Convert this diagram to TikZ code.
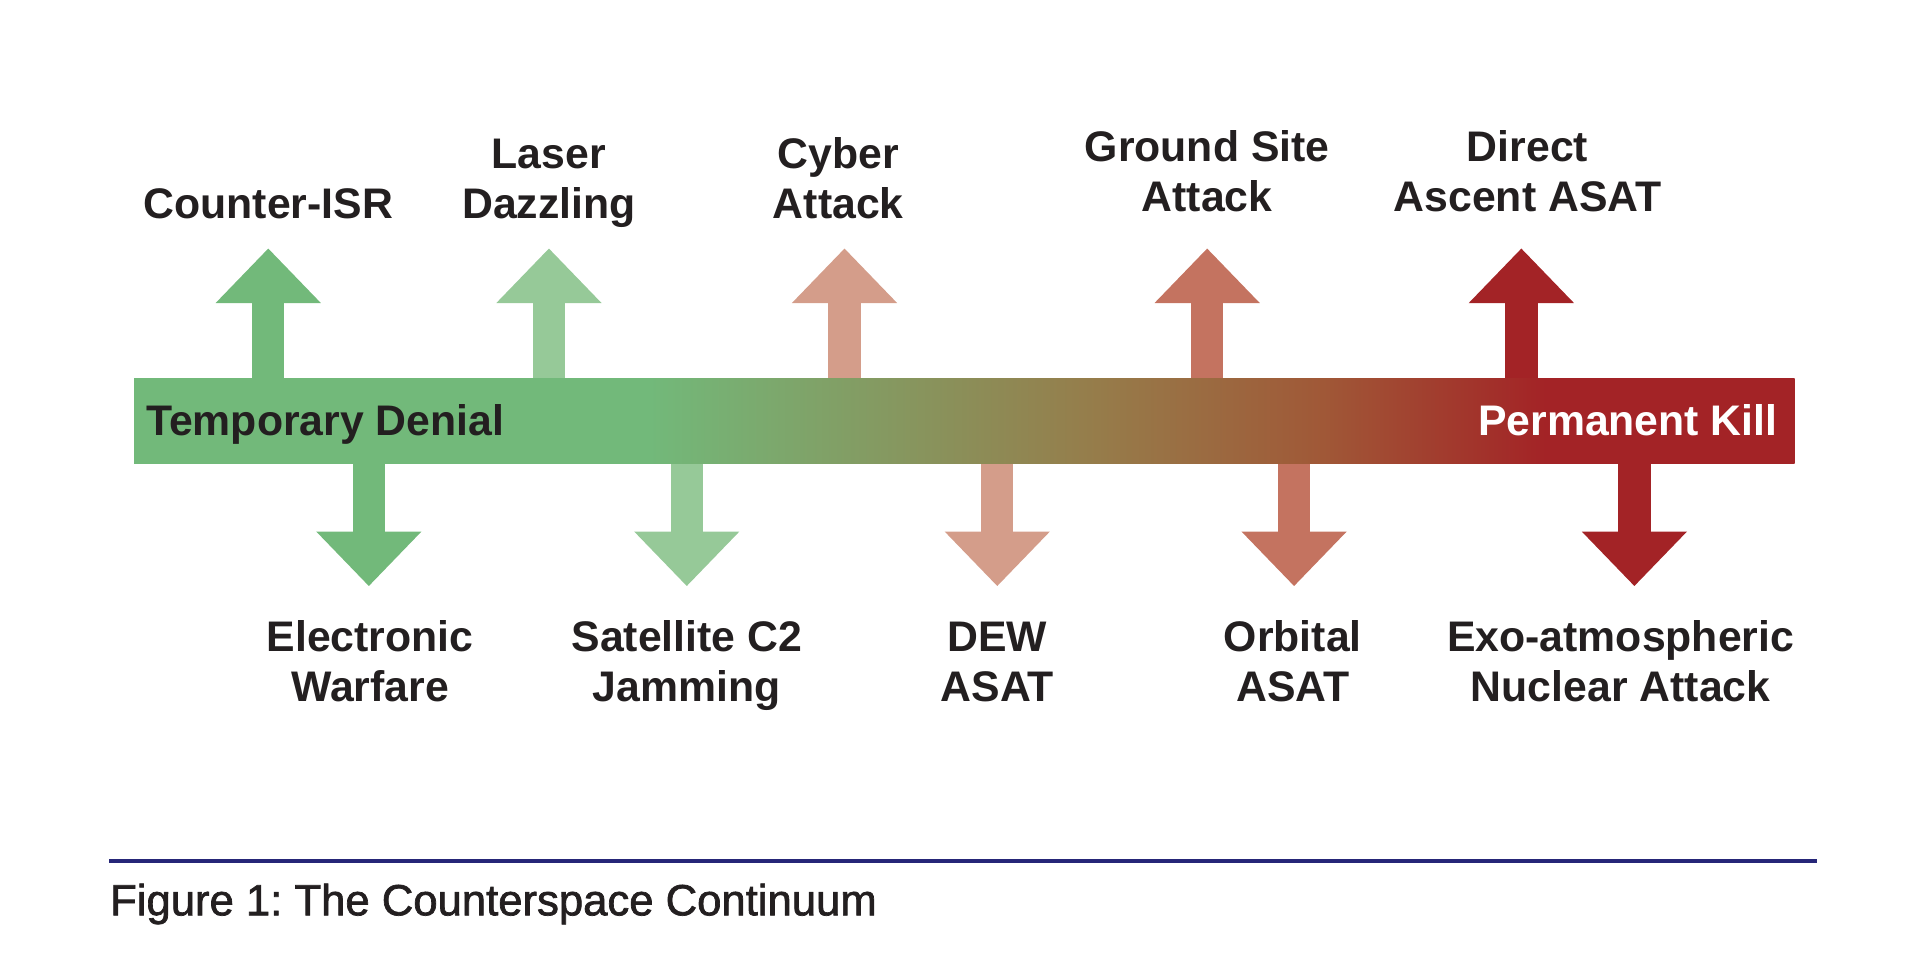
\documentclass[tikz,border=0pt]{standalone}
\usepackage{fontspec}
\setmainfont{Liberation Sans}
\newfontfamily\capfont[FakeBold=1.6]{Liberation Sans}
\usepackage{xcolor}
\usepackage{tikz}
\usetikzlibrary{arrows.meta}
\usetikzlibrary{positioning}
\definecolor{tdgreen}{RGB}{114,185,122}
\definecolor{ltgreen}{RGB}{150,201,152}
\definecolor{salmon}{RGB}{212,157,138}
\definecolor{rust}{RGB}{196,115,96}
\definecolor{pkred}{RGB}{163,35,38}
\definecolor{ochre}{RGB}{150,124,74}
\definecolor{burnt}{RGB}{160,88,55}
\definecolor{ink}{RGB}{35,31,32}
\definecolor{rulenavy}{RGB}{38,38,120}
\pgfdeclarehorizontalshading{continuum}{100bp}{color(0bp)=(tdgreen); color(40.5bp)=(tdgreen); color(54bp)=(ochre); color(60.8bp)=(burnt); color(67.5bp)=(pkred); color(100bp)=(pkred)}
\tikzset{
	lbl/.style={font=\bfseries\fontsize{9.8}{11.4}\selectfont, text=ink, align=center, inner sep=0pt, anchor=base},
	shaft/.style={line width=2.6mm, -{Triangle[length=4.4mm,width=8.2mm]}},
}
\frenchspacing

\begin{document}
\begin{tikzpicture}[x=0.1mm, y=-0.1mm]
		\useasboundingbox (0,0) rectangle (1546,775.4);
		
		\node[shade, shading=continuum, minimum width=133.7mm, minimum height=6.8mm, inner sep=0pt] (bar) at (776.5,339) {};
		\node[lbl, anchor=base west] (tden) at (117,351) {Temporary Denial};
		\node[lbl, anchor=base east, text=white] (pkill) at (1432,351) {Permanent Kill};
		
		% upward
		\coordinate (u1) at (216,200);
		\coordinate (u2) at (442,200);
		\coordinate (u3) at (680,200);
		\coordinate (u4) at (972,200);
		\coordinate (u5) at (1225,200);
		\draw[shaft, tdgreen] (bar.north -| u1) -- (u1);
		\draw[shaft, ltgreen] (bar.north -| u2) -- (u2);
		\draw[shaft, salmon] (bar.north -| u3) -- (u3);
		\draw[shaft, rust] (bar.north -| u4) -- (u4);
		\draw[shaft, pkred] (bar.north -| u5) -- (u5);
		
		\node[lbl] (cisr) at (216,176) {Counter-ISR};
		\node[lbl] (laser) at (442,176) {Laser\\Dazzling};
		\node[lbl] (cyber) at (675,176) {Cyber\\Attack};
		\node[lbl] (ground) at (972,170) {Ground Site\\Attack};
		\node[lbl] (daasat) at (1230,170) {Direct\\Ascent ASAT};
		
		% downward
		\coordinate (d1) at (297,472);
		\coordinate (d2) at (553,472);
		\coordinate (d3) at (803,472);
		\coordinate (d4) at (1042,472);
		\coordinate (d5) at (1316,472);
		\draw[shaft, tdgreen] (bar.south -| d1) -- (d1);
		\draw[shaft, ltgreen] (bar.south -| d2) -- (d2);
		\draw[shaft, salmon] (bar.south -| d3) -- (d3);
		\draw[shaft, rust] (bar.south -| d4) -- (d4);
		\draw[shaft, pkred] (bar.south -| d5) -- (d5);
		
		\node[lbl] (ewar) at (298,565) {Electronic\\Warfare};
		\node[lbl] (satjam) at (553,565) {Satellite C2\\Jamming};
		\node[lbl] (dew) at (803,565) {DEW\\ASAT};
		\node[lbl] (orbital) at (1041,565) {Orbital\\ASAT};
		\node[lbl] (exo) at (1305,565) {Exo-atmospheric\\Nuclear Attack};
		
		% caption
		\coordinate (rl) at (88,693);
		\coordinate (rr) at (1463,693);
		\draw[rulenavy, line width=0.3mm] (rl) -- (rr);
		\node[font=\capfont\fontsize{10}{12}\selectfont, text=ink, anchor=base west, inner sep=0pt] (cap) at (88,737) {Figure 1: The Counterspace Continuum};
		\end{tikzpicture}
\end{document}
